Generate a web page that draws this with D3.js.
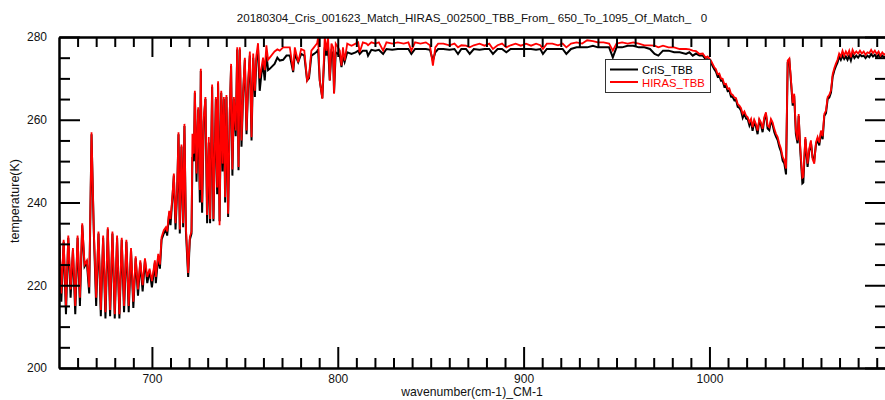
<!DOCTYPE html>
<html lang="en">
<head>
<meta charset="UTF-8"/>
<title>CrIS vs HIRAS TBB 650-1095</title>
<script src="https://d3js.org/d3.v7.min.js"></script>
<style>
body { margin: 0; background: #fff; }
svg text { font-family: "Liberation Sans", Arial, sans-serif; }
</style>
</head>
<body>
<script>
// wavenumber (cm-1) of each plotted channel
var wavenumber = [
    650, 651.25, 652.5, 653.75, 655, 656.25, 657.5, 658.75, 660, 661.25,
    662.5, 663.75, 665, 666.25, 667.5, 668.75, 670, 671.25, 672.5, 673.75,
    675, 676.25, 677.5, 678.75, 680, 681.25, 682.5, 683.75, 685, 686.25,
    687.5, 688.75, 690, 691.25, 692.5, 693.75, 695, 696.25, 697.5, 698.75,
    700, 701.6, 702.1, 703.4, 704.3, 705.2, 706.4, 707.5, 708.2, 709.3,
    710, 711.1, 711.8, 712.7, 713.6, 714.3, 715, 715.9, 716.8, 717.5,
    718.3, 719.5, 720.4, 721.3, 721.8, 722.6, 723.1, 724, 724.9, 725.8,
    726.3, 727, 727.9, 728.8, 729.7, 730.6, 731.3, 732.4, 733.1, 734.4,
    735.1, 735.6, 736.4, 737.3, 738, 738.7, 739.4, 740.1, 741, 741.9,
    742.6, 743.3, 744.1, 745.1, 745.9, 746.6, 747.3, 748.2, 749.1, 750,
    750.9, 751.8, 752.7, 753.6, 754.5, 755.4, 756.2, 757.1, 758, 758.9,
    759.8, 760.7, 761.6, 762.5, 763.4, 766, 767.5, 768.8, 770.6, 772.4,
    774.2, 776, 776.9, 778.7, 780.3, 782, 783.5, 784.5, 785.8, 787.2,
    788.9, 789.4, 790.3, 791.7, 793, 793.9, 794.8, 795.7, 796.6, 797.5,
    798, 798.9, 800.2, 801.1, 802, 802.8, 803.7, 805.1, 807.4, 809.6,
    811, 811.8, 813.5, 815.5, 816.3, 818.1, 820.2, 822.1, 824.4, 826.2,
    829.3, 832.3, 835.5, 838, 839.6, 841.6, 844.5, 847.4, 849.6, 851.2,
    852.5, 854, 856.8, 860.1, 862.8, 864.7, 866.5, 869, 871, 873.2,
    876.3, 879, 881.5, 883.5, 886, 888.4, 890.7, 893, 895.7, 898.5,
    901.3, 904, 906.7, 909, 910.4, 912.5, 915.5, 918.5, 921, 923,
    925.5, 928.5, 931.5, 934.2, 937.3, 940, 943, 946, 948, 950,
    953, 956, 959, 962, 965, 968, 970.5, 972.5, 975, 978,
    981, 984, 987.4, 989.2, 991, 992.8, 994.6, 996.4, 998, 999,
    1000.8, 1001.7, 1002.6, 1003.5, 1004.4, 1005.3, 1006.2, 1007.1, 1008, 1008.9,
    1009.8, 1010.7, 1011.6, 1012.5, 1013.4, 1014.3, 1015.2, 1016.1, 1017, 1017.9,
    1018.8, 1019.7, 1020.6, 1021.5, 1022.4, 1023.2, 1024.1, 1025, 1025.9, 1026.8,
    1027.7, 1028.6, 1029.5, 1030.4, 1031.3, 1032.2, 1033.1, 1034, 1034.9, 1035.8,
    1036.7, 1037.6, 1038.5, 1039.4, 1040.3, 1041.2, 1042.1, 1043, 1043.9, 1044.8,
    1045.6, 1046.5, 1047.4, 1048, 1048.8, 1049.2, 1050, 1050.5, 1051.6, 1052.8,
    1053.7, 1054.6, 1055.5, 1056.4, 1057.3, 1058.2, 1059.1, 1060, 1060.9, 1061.8,
    1062.7, 1063.6, 1064.5, 1065.4, 1066.3, 1067.2, 1068, 1068.9, 1069.8, 1070.7,
    1071.6, 1072.5, 1073.4, 1074.3, 1075.2, 1076.1, 1077, 1078, 1079, 1080,
    1081, 1082, 1083, 1084, 1085, 1086, 1087, 1088, 1089, 1090,
    1091, 1092, 1093, 1094, 1095
];

// CrIS brightness temperature (K)
var crisTBB = [
    233.5, 216, 230.5, 213, 231.5, 217, 228.5, 213, 231.5, 215,
    234.5, 224.5, 225.5, 218, 256.5, 232.5, 215, 232.5, 212.5, 231.5,
    212, 233.5, 212.5, 232.5, 212, 231.5, 212, 231, 213.5, 230.5,
    213.5, 228.5, 214.5, 226.5, 217.5, 225.5, 218.5, 226, 220.5, 223.5,
    219.5, 225.5, 220.5, 227, 224, 231, 232.5, 233.5, 232, 237.5,
    234.5, 241.5, 246.5, 233.5, 243, 256.5, 232.5, 253.5, 234, 258.5,
    233, 222, 231, 232.5, 251, 250, 266.5, 245, 262.5, 240,
    271.8, 237.5, 259.5, 265, 235, 254.5, 235, 268, 235.5, 265,
    242, 268.8, 235.5, 266.5, 247.5, 265, 240, 265.5, 236.5, 261.5,
    273, 246.5, 265, 256, 277, 247.8, 277, 253.5, 266.5, 274.5,
    256.5, 268.5, 275.5, 255, 275, 265.5, 274.5, 277, 267, 271,
    273.5, 269.5, 276, 272, 272.3, 273.5, 275, 274.3, 274.5, 275.5,
    275.5, 271.5, 275.9, 273.9, 275.9, 275.5, 269.5, 270, 275.5, 275.9,
    276.5, 277, 269.5, 265.2, 277.5, 275.5, 277.5, 269.5, 276.5, 275.9,
    266.5, 276.3, 275.9, 275.5, 272.7, 275.5, 274, 276.3, 275.9, 276.3,
    276.7, 275.9, 276.7, 276.7, 275.5, 276.9, 276.7, 276.9, 275.9, 277.1,
    276.9, 277.1, 277.1, 277.1, 275.9, 277.1, 277.1, 277.1, 276.9, 274.3,
    276.3, 277.1, 277.1, 276.9, 277.1, 275.9, 277.1, 277.1, 275.9, 277.1,
    276.9, 277.1, 277.1, 275.9, 277.1, 277.1, 276.3, 277.1, 277.1, 277.1,
    277.1, 277.1, 276.9, 277.1, 275.9, 277.1, 277.1, 277.1, 277.1, 275.9,
    277.1, 277.5, 277.5, 277.5, 277.9, 277.5, 277.5, 277.5, 275.1, 277.5,
    277.5, 277.9, 277.9, 277.5, 277.5, 277.1, 275.9, 275.5, 276.7, 276.7,
    276.3, 276.3, 275.9, 276.3, 275.5, 276, 275.5, 275.5, 274.6, 274.6,
    273.9, 273, 272.2, 271.6, 270.4, 270.7, 269.4, 269.4, 268, 268.2,
    266.9, 267.1, 265.6, 265.5, 264.7, 264.8, 263.1, 262.9, 262.2, 260.5,
    261.5, 260.3, 260.1, 258.6, 259.7, 257.3, 259.5, 258.4, 256.5, 259.7,
    258.8, 257, 260.1, 261.3, 257.9, 257.5, 259.7, 258.8, 257, 255.9,
    255.1, 253.4, 252.3, 250.1, 249.4, 246.8, 273.8, 274.3, 269, 263.4,
    265.8, 256.6, 254.3, 260.9, 253.1, 250.3, 244.6, 244.8, 255.3, 248.6,
    252.4, 254.5, 250.9, 250.2, 253.9, 255.3, 253.8, 256.9, 255.3, 260.9,
    261.6, 265, 265.4, 266.6, 270.4, 271.9, 272.9, 273.8, 275.3, 274.5,
    275.5, 274.7, 275.3, 274.5, 275.5, 274.3, 275.9, 274.9, 275.5, 275,
    275.7, 275.3, 275.5, 274.9, 275.5, 275.1, 275.9, 275.3, 275.7, 275.1,
    275.7, 275.1, 275.5, 275.1, 275.3
];

// HIRAS brightness temperature (K)
var hirasTBB = [
    234, 218, 231, 215, 232, 219, 229, 215, 232, 217,
    235, 225, 226, 219.5, 257, 233, 217, 233, 214, 232,
    213.5, 234, 214, 233, 213, 232, 213, 231.5, 215, 231,
    215, 229, 216, 227, 219, 226, 220, 226.5, 222, 224,
    221, 226, 222, 227.6, 225, 231.6, 233.3, 234, 233, 238,
    236, 242, 247, 235, 243.6, 257, 233.5, 254, 235, 259,
    234, 223, 231.7, 233, 256.6, 251.8, 267, 247, 263, 243,
    272.3, 240, 260.6, 265.5, 237, 255.8, 236, 268.5, 236, 265.5,
    243.6, 269.3, 234.5, 267, 249.4, 265.5, 241.3, 266, 237.3, 262.3,
    273.5, 248, 265.5, 257.4, 277.5, 248.6, 277.5, 255, 267, 275,
    257.4, 269.5, 276.5, 255.8, 276, 267, 275.5, 278.5, 270, 272.5,
    275, 272, 278, 274.5, 275, 276.5, 277, 276.7, 277.5, 277.5,
    277.5, 271.9, 277.5, 273.9, 277.1, 276.7, 269.5, 270.5, 276.7, 277.5,
    278.5, 279.8, 269.5, 265.1, 280, 276.7, 280, 269.5, 278.4, 277.5,
    266.3, 278.4, 277.5, 276.7, 273.1, 277.5, 274.3, 278.4, 277.9, 278.4,
    278.7, 276.3, 278.7, 278.4, 278, 278.7, 278.4, 278.7, 276.7, 278.7,
    278.4, 278.7, 278.4, 278.7, 276.7, 278.7, 278.4, 278.7, 278, 273.1,
    277.5, 278.4, 278.4, 278, 278.4, 277.5, 278, 277.9, 277.5, 278,
    278.4, 277.9, 278.4, 277.1, 278, 278.4, 277.5, 278, 278.4, 277.9,
    278.4, 277.9, 278.4, 278, 277.1, 278.4, 278.4, 278, 278.4, 277.5,
    278.4, 278.7, 278.4, 279.2, 279, 278.7, 278.7, 278.4, 276.7, 278.4,
    278.7, 278.4, 278.7, 278.4, 278, 278, 277.9, 277.5, 277.9, 277.5,
    277.5, 277.1, 277.1, 277, 276.7, 276.6, 275.9, 276, 275, 275.3,
    274.3, 273.5, 272.7, 272.2, 271, 271.2, 270, 269.9, 268.6, 268.7,
    267.5, 267.6, 266.3, 266, 265.4, 265.2, 263.8, 263.4, 262.8, 261.4,
    262, 261, 260.6, 259.4, 260.2, 258.2, 260, 259, 257.4, 260.2,
    259.4, 257.8, 260.6, 261.8, 258.6, 258.2, 260.2, 259.4, 257.8, 256.6,
    255.8, 254.2, 253, 251, 250.2, 248.2, 274.3, 274.8, 269.5, 264,
    266.3, 257.4, 255, 261.4, 254, 251, 246, 246.2, 255.8, 249.4,
    253, 255, 250.5, 249.4, 254.5, 255.8, 254.5, 257.4, 256, 261.4,
    262.2, 265.5, 266, 267.1, 271, 272.5, 273.5, 274.5, 276, 275.3,
    276.7, 275.5, 276.5, 275.7, 276.7, 275.1, 276.9, 275.9, 276.5, 276,
    276.7, 276, 276.5, 275.7, 276.3, 276.1, 276.9, 276.1, 276.7, 275.9,
    276.5, 275.5, 276.3, 275.7, 276.1
];

var xTickValues = [700, 800, 900, 1000];
var yTickValues = [200, 220, 240, 260, 280];
var seriesNames = ["CrIS_TBB", "HIRAS_TBB"];
var seriesColors = ["black", "red"];

var chartTitle = "20180304_Cris_001623_Match_HIRAS_002500_TBB_From_ 650_To_1095_Of_Match_   0";
var xTitle = "wavenumber(cm-1)_CM-1";
var yTitle = "temperature(K)";

var w = 885;
var h = 400;
var plotLeft = 59, plotRight = 886, plotTop = 37, plotBottom = 368;

var xScale = d3.scaleLinear().domain([650, 1095]).range([plotLeft, plotRight]);
var yScale = d3.scaleLinear().domain([200, 280]).range([plotBottom, plotTop]);

// minor ticks every 10 cm-1 and every 5 K
var xMinor = d3.range(660, 1095, 10).filter(function (v) { return v % 100 !== 0; });
var yMinor = d3.range(205, 280, 5).filter(function (v) { return v % 20 !== 0; });

var svg = d3.select("body")
    .append("svg")
    .attr("width", w)
    .attr("height", h);

svg.append("clipPath")
    .attr("id", "plotClip")
    .append("rect")
    .attr("x", plotLeft)
    .attr("y", plotTop - 1)
    .attr("width", plotRight - plotLeft)
    .attr("height", plotBottom - plotTop + 1);

var n = Math.min(wavenumber.length, crisTBB.length, hirasTBB.length);
var rows = [];
for (var i = 0; i < n; i++) {
    rows.push({ wn: wavenumber[i], cris: crisTBB[i], hiras: hirasTBB[i] });
}

var crisLine = d3.line()
    .x(function (d) { return xScale(d.wn); })
    .y(function (d) { return yScale(d.cris); });

var hirasLine = d3.line()
    .x(function (d) { return xScale(d.wn); })
    .y(function (d) { return yScale(d.hiras); });

var plot = svg.append("g").attr("clip-path", "url(#plotClip)");

plot.append("path")
    .datum(rows)
    .attr("d", crisLine)
    .attr("fill", "none")
    .attr("stroke", seriesColors[0])
    .attr("stroke-width", 2);

plot.append("path")
    .datum(rows)
    .attr("d", hirasLine)
    .attr("fill", "none")
    .attr("stroke", seriesColors[1])
    .attr("stroke-width", 1.8);

// axes - ticks all point into the plot box
function styleAxis(g) {
    g.attr("font-family", null).attr("font-size", null);
    g.select(".domain").attr("stroke", "black").attr("stroke-width", 2);
    g.selectAll(".tick line").attr("stroke", "black").attr("stroke-width", 2);
    g.selectAll(".tick text").attr("font-size", 12).attr("fill", "#111");
}

svg.append("g")
    .attr("transform", "translate(0," + plotBottom + ")")
    .call(d3.axisBottom(xScale).tickValues(xMinor).tickSizeInner(-10).tickSizeOuter(0).tickFormat(""))
    .call(styleAxis);

svg.append("g")
    .attr("transform", "translate(0," + plotBottom + ")")
    .call(d3.axisBottom(xScale).tickValues(xTickValues).tickSizeInner(-21).tickSizeOuter(0).tickPadding(6.5).tickFormat(d3.format("d")))
    .call(styleAxis);

svg.append("g")
    .attr("transform", "translate(0," + plotTop + ")")
    .call(d3.axisTop(xScale).tickValues(xMinor).tickSizeInner(-10).tickSizeOuter(0).tickFormat(""))
    .call(styleAxis);

svg.append("g")
    .attr("transform", "translate(0," + plotTop + ")")
    .call(d3.axisTop(xScale).tickValues(xTickValues).tickSizeInner(-20).tickSizeOuter(0).tickFormat(""))
    .call(styleAxis);

svg.append("g")
    .attr("transform", "translate(" + plotLeft + ",0)")
    .call(d3.axisLeft(yScale).tickValues(yMinor).tickSizeInner(-11).tickSizeOuter(0).tickFormat(""))
    .call(styleAxis);

svg.append("g")
    .attr("transform", "translate(" + plotLeft + ",0)")
    .call(d3.axisLeft(yScale).tickValues(yTickValues).tickSizeInner(-21).tickSizeOuter(0).tickPadding(12).tickFormat(d3.format("d")))
    .call(styleAxis);

svg.append("g")
    .attr("transform", "translate(" + plotRight + ",0)")
    .call(d3.axisRight(yScale).tickValues(yMinor).tickSizeInner(-11).tickSizeOuter(0).tickFormat(""))
    .call(styleAxis);

svg.append("g")
    .attr("transform", "translate(" + plotRight + ",0)")
    .call(d3.axisRight(yScale).tickValues(yTickValues).tickSizeInner(-21).tickSizeOuter(0).tickFormat(""))
    .call(styleAxis);

// titles
svg.append("text")
    .attr("x", 472)
    .attr("y", 22)
    .attr("text-anchor", "middle")
    .attr("font-size", 11.6)
    .attr("fill", "#111")
    .style("white-space", "pre")
    .text(chartTitle);

svg.append("text")
    .attr("x", 472)
    .attr("y", 396)
    .attr("text-anchor", "middle")
    .attr("font-size", 12.2)
    .attr("fill", "#111")
    .text(xTitle);

svg.append("text")
    .attr("transform", "translate(19,201) rotate(-90)")
    .attr("text-anchor", "middle")
    .attr("font-size", 12.5)
    .attr("fill", "#111")
    .text(yTitle);

// legend
var legend = svg.append("g").attr("transform", "translate(605,59)");

legend.append("rect")
    .attr("x", 0.5)
    .attr("y", 0.5)
    .attr("width", 105)
    .attr("height", 33)
    .attr("fill", "white")
    .attr("stroke", "#333")
    .attr("stroke-width", 1);

legend.selectAll("line.key")
    .data(seriesNames)
    .enter()
    .append("line")
    .attr("class", "key")
    .attr("x1", 5)
    .attr("x2", 33)
    .attr("y1", function (d, i) { return 10.5 + i * 12.5; })
    .attr("y2", function (d, i) { return 10.5 + i * 12.5; })
    .attr("stroke", function (d, i) { return seriesColors[i]; })
    .attr("stroke-width", 2);

legend.selectAll("text.key")
    .data(seriesNames)
    .enter()
    .append("text")
    .attr("class", "key")
    .attr("x", 37)
    .attr("y", function (d, i) { return 14.5 + i * 13; })
    .attr("font-size", 11.3)
    .attr("fill", function (d, i) { return seriesColors[i]; })
    .text(function (d) { return d; });
</script>
</body>
</html>
